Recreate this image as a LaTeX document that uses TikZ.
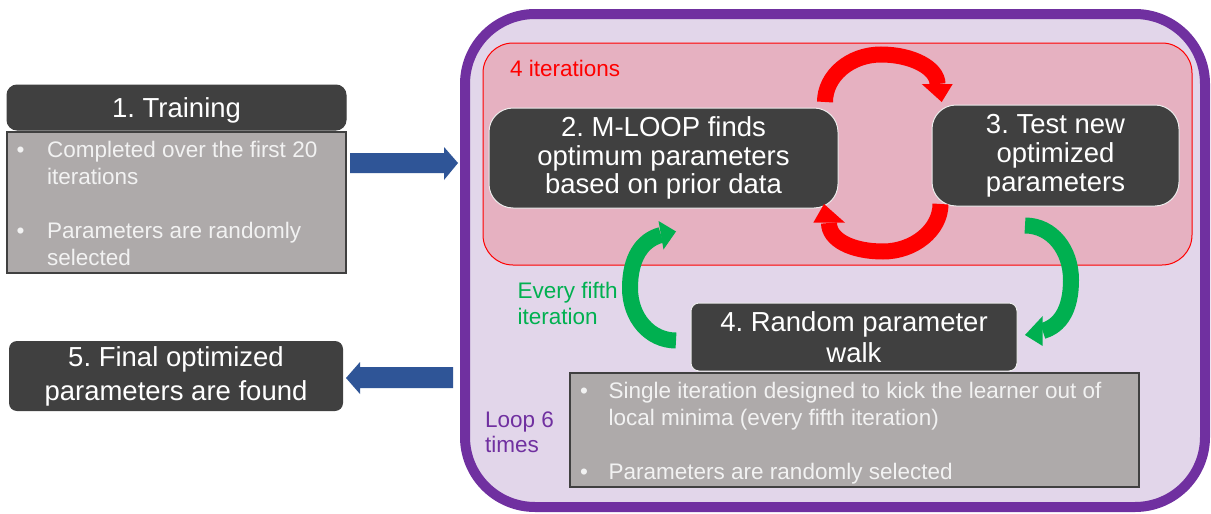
\documentclass[tikz,border=0pt]{standalone}
\usepackage{fontspec}
\setmainfont{Liberation Sans}
\frenchspacing
\definecolor{boxdark}{HTML}{404040}
\definecolor{panelgray}{HTML}{AEAAAA}
\definecolor{lav}{HTML}{E2D6EA}
\definecolor{pinkbg}{HTML}{E6B1C1}
\definecolor{purp}{HTML}{7030A0}
\definecolor{grn}{HTML}{00B050}
\definecolor{arrowblue}{HTML}{2F5597}
\definecolor{lighttext}{HTML}{F2F2F2}
\definecolor{redtxt}{HTML}{FF0000}
\begin{document}
\begin{tikzpicture}[x=1pt,y=-1pt,
  darkbox/.style={fill=boxdark, text=white, align=center, inner sep=0pt},
  whiteedge/.style={draw=white!85!gray, line width=1pt},
  graypanel/.style={fill=panelgray, draw=boxdark, line width=1.5pt, inner sep=0pt},
  bullettext/.style={anchor=base west, text=lighttext, inner sep=0pt, font=\fontsize{22.5}{27}\selectfont\frenchspacing},
  note/.style={anchor=base west, inner sep=0pt, font=\fontsize{22.5}{27}\selectfont},
  blockarrow/.style={fill=arrowblue},
  bigcurve/.style={line width=16pt},
]
\useasboundingbox (0,0) rectangle (1211,514);
\fill[white] (0,0) rectangle (1211,514);

% outer loop box and inner 4-iteration box
\node[draw=purp, line width=10pt, fill=lav, rounded corners=70pt, inner sep=0pt,
      minimum width=740pt, minimum height=493pt] (loop) at (835,260.5) {};
\node[draw=redtxt, line width=1pt, fill=pinkbg, rounded corners=30pt, inner sep=0pt,
      minimum width=709pt, minimum height=222pt] (inner) at (837.5,154) {};

% left column
\node[darkbox, draw=black!75, line width=1pt, rounded corners=10pt,
      minimum width=339pt, minimum height=45pt,
      font=\fontsize{27.5}{29}\selectfont\frenchspacing] (train) at (176.5,107.5) {};
\node[anchor=base, text=white, inner sep=0pt,
      font=\fontsize{27.5}{29}\selectfont\frenchspacing] (traintext) at (176.5,117.5) {1. Training};
\node[graypanel, minimum width=339pt, minimum height=141pt] (traingray) at (176.5,202.5) {};
\node[bullettext] (tb1) at (16.5,157) {\makebox[30.5pt][l]{•}Completed over the first 20};
\node[bullettext] (tb2) at (47,184) {iterations};
\node[bullettext] (tb3) at (16.5,238) {\makebox[30.5pt][l]{•}Parameters are randomly};
\node[bullettext] (tb4) at (47,265) {selected};

\node[darkbox, rounded corners=8pt, minimum width=334pt, minimum height=70pt,
      font=\fontsize{27.5}{34}\selectfont\frenchspacing] (final) at (176,376)
      {5. Final optimized\\parameters are found};

% inner boxes
\node[darkbox, whiteedge, rounded corners=24pt, minimum width=349pt, minimum height=100pt,
      font=\fontsize{27.5}{28.5}\selectfont\frenchspacing] (mloop) at (663.5,158)
      {2. M-LOOP finds\\optimum parameters\\based on prior data};
\node[darkbox, whiteedge, rounded corners=24pt, minimum width=247pt, minimum height=101pt,
      font=\fontsize{27.5}{29}\selectfont\frenchspacing] (test) at (1055.5,155.5)
      {3. Test new\\optimized\\parameters};
\node[darkbox, whiteedge, rounded corners=8pt, minimum width=326pt, minimum height=68pt,
      font=\fontsize{27.5}{31}\selectfont\frenchspacing] (walk) at (854,337)
      {4. Random parameter\\walk};
\node[graypanel, minimum width=569pt, minimum height=114pt] (walkgray) at (854.5,430) {};
\node[bullettext] (wb1) at (580,398) {\makebox[28.5pt][l]{•}Single iteration designed to kick the learner out of};
\node[bullettext] (wb2) at (608.5,425) {local minima (every fifth iteration)};
\node[bullettext] (wb3) at (580,479) {\makebox[28.5pt][l]{•}Parameters are randomly selected};

% labels
\node[note, text=redtxt] (iters) at (510,76) {4 iterations};
\node[note, text=grn] (every1) at (517.5,298) {Every fifth};
\node[note, text=grn] (every2) at (517.5,324) {iteration};
\node[note, text=purp] (loop1) at (485,427) {Loop 6};
\node[note, text=purp] (loop2) at (485,452) {times};

% blue block arrows
\fill[blockarrow] (350,153) -- (444,153) -- (444,147) -- (458,163) -- (444,180)
  -- (444,173) -- (350,173) -- cycle;
\fill[blockarrow] (453,367) -- (360,367) -- (360,362) -- (346,378) -- (360,394)
  -- (360,388) -- (453,388) -- cycle;

% red loop arrows
\coordinate (r1s) at (825,102);
\coordinate (r1t) at (881,54.5);
\coordinate (r1e) at (937.5,84);
\draw[redtxt, bigcurve] (r1s) .. controls (825,76) and (850,54.5) .. (r1t)
  .. controls (912,54.5) and (937.5,68) .. (r1e);
\fill[redtxt] (921.7,84) -- (952.7,84) -- (941.7,102) -- cycle;

\coordinate (r2s) at (940.5,204);
\coordinate (r2b) at (883,251.5);
\coordinate (r2e) at (829,223);
\draw[redtxt, bigcurve] (r2s) .. controls (940.5,230) and (914,251.5) .. (r2b)
  .. controls (852,251.5) and (829,240) .. (r2e);
\fill[redtxt] (813.3,222.7) -- (845,222.7) -- (824,204) -- cycle;

% green arrows
\coordinate (g1s) at (676,340.5);
\coordinate (g1m) at (630,288);
\coordinate (g1e) at (661,235);
\draw[grn, bigcurve] (g1s) .. controls (650,340.5) and (630,318) .. (g1m)
  .. controls (630,258) and (642,240) .. (g1e);
\fill[grn] (658.5,221) -- (676,231.5) -- (663.5,249.5) -- cycle;

\coordinate (g2s) at (1025,225.5);
\coordinate (g2m) at (1071,280);
\coordinate (g2e) at (1042.7,331);
\draw[grn, bigcurve] (g2s) .. controls (1052,225.5) and (1071,250) .. (g2m)
  .. controls (1071,310) and (1060,326) .. (g2e);
\fill[grn] (1042.7,316) -- (1025,335) -- (1042.7,346) -- cycle;
\end{tikzpicture}
\end{document}
